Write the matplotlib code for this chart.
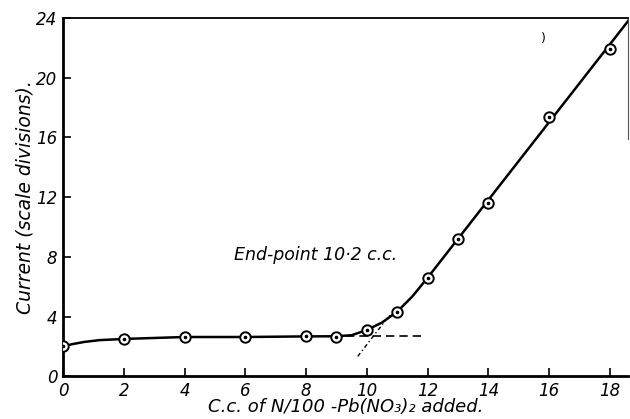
import matplotlib
matplotlib.use("Agg")
import matplotlib.pyplot as plt

# measured points (c.c. added vs current)
cc_added = [0, 2, 4, 6, 8, 9, 10, 11, 12, 13, 14, 16, 18]
current = [2.0, 2.5, 2.63, 2.63, 2.67, 2.65, 3.1, 4.33, 6.6, 9.2, 11.6, 17.4, 21.9]

# drawn curve (straight part after 12 c.c.)
curve_x = [0, 0.3, 0.7, 1.2, 2, 4, 6, 8, 9, 9.5, 10, 10.5, 11, 11.5, 12, 18.6]
curve_y = [2.0, 2.15, 2.3, 2.42, 2.5, 2.63, 2.63, 2.67, 2.68, 2.75, 3.1, 3.6, 4.33, 5.35, 6.6, 23.8]

# construction lines for the end-point
flat_x = [9.3, 11.8]
flat_y = [2.67, 2.67]
extrap_x = [9.7, 10.75]
extrap_y = [1.33, 4.1]

xticks = [0, 2, 4, 6, 8, 10, 12, 14, 16, 18]
yticks = [0, 4, 8, 12, 16, 20, 24]

plt.rcParams['font.family'] = ['DejaVu Sans']

fig = plt.figure(figsize=(6.3, 4.19), dpi=100)
ax = fig.add_axes([0.1, 0.102, 0.897, 0.855])

ax.plot(curve_x, curve_y, color='black', lw=1.8, zorder=2)
ax.plot(flat_x, flat_y, color='black', lw=1.2, dashes=(5, 3), zorder=1)
ax.plot(extrap_x, extrap_y, color='black', lw=1.0, dashes=(3, 2, 1, 2), zorder=1)
ax.plot(cc_added, current, linestyle='none', marker='o', ms=7.5, mfc='white',
        mec='black', mew=1.4, zorder=3)
ax.plot(cc_added, current, linestyle='none', marker='o', ms=1.6, color='black', zorder=4)

ax.text(8.3, 8.1, "End-point 10·2 c.c.", ha='center', va='center',
        style='italic', fontsize=12.5)
ax.text(15.8, 22.6, ")", fontsize=9, ha='center', va='center')

ax.set_xlim(0, 18.6)
ax.set_ylim(0, 24)
ax.set_xticks(xticks)
ax.set_yticks(yticks)
ax.tick_params(direction='in', length=6, width=1.2, labelsize=12, pad=4)
for lab in ax.get_xticklabels() + ax.get_yticklabels():
    lab.set_style('italic')

ax.spines['left'].set_linewidth(2.0)
ax.spines['bottom'].set_linewidth(2.0)
ax.spines['top'].set_linewidth(1.3)
ax.spines['right'].set_linewidth(0.8)
ax.spines['right'].set_color('#555555')
ax.spines['right'].set_bounds(15.9, 24)

ax.set_xlabel("C.c. of N/100 -Pb(NO₃)₂ added.", style='italic', fontsize=13, labelpad=-1)
ax.set_ylabel("Current (scale divisions).", style='italic', fontsize=13.5, labelpad=1)

fig.savefig("out.png", dpi=100)
